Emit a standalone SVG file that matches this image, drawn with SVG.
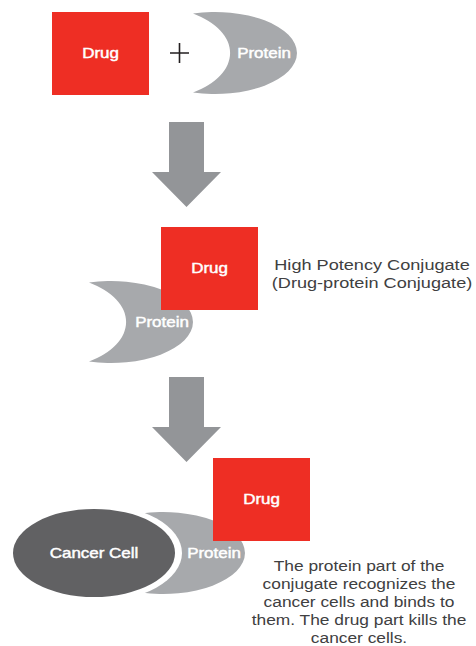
<svg xmlns="http://www.w3.org/2000/svg" xmlns:xlink="http://www.w3.org/1999/xlink" width="476" height="646" viewBox="0 0 476 646">
<style>
.drug{fill:#EE2E24}
.prot{fill:#A7A9AC}
.arrow{fill:#939598}
.lbl{fill:#fff;stroke:#fff;stroke-width:0.45px;font-family:"Liberation Sans",Arial,Helvetica,sans-serif;font-size:14.5px;text-anchor:middle}
.txt{fill:#404041;font-family:"Liberation Sans",Arial,Helvetica,sans-serif;font-size:15.5px;text-anchor:middle}
</style>
<defs>
<path id="crescent" d="M193,13.5 A82,41 0 1 1 193,92.5 A80,46.8 0 0 0 193,13.5 Z"/>
</defs>
<rect width="476" height="646" fill="#fff"/>

<g id="protein1">
<use xlink:href="#crescent" class="prot"/>
<text class="lbl" transform="translate(264,58) scale(1.17,1)">Protein</text>
</g>
<g id="drug1">
<rect class="drug" x="52" y="12" width="97" height="83"/>
<text class="lbl" transform="translate(100.5,58) scale(1.17,1)">Drug</text>
</g>
<g id="plus">
<path d="M170,53 H189 M179.5,43 V63" stroke="#231F20" stroke-width="1.6" fill="none"/>
</g>

<g id="connectors">
<path class="arrow" d="M169,122 H204 V172 H221 L186.5,207 L152,172 H169 Z"/>
<path class="arrow" d="M169,377 H204 V427 H221 L186.5,462 L152,427 H169 Z"/>
</g>

<g id="protein2">
<use xlink:href="#crescent" class="prot" transform="translate(-104,269)"/>
<text class="lbl" transform="translate(162,327) scale(1.17,1)">Protein</text>
</g>
<g id="drug2">
<rect class="drug" x="161" y="227" width="97" height="83"/>
<text class="lbl" transform="translate(209.5,273) scale(1.17,1)">Drug</text>
</g>
<g id="conjugate-label">
<text class="txt" transform="translate(372,270) scale(1.17,1)">High Potency Conjugate</text>
<text class="txt" transform="translate(372,288) scale(1.17,1)">(Drug-protein Conjugate)</text>
</g>

<g id="protein3">
<use xlink:href="#crescent" class="prot" transform="translate(-52,500)"/>
<text class="lbl" transform="translate(214,558) scale(1.17,1)">Protein</text>
</g>
<g id="cancer-cell">
<ellipse cx="94" cy="553" rx="88" ry="49" fill="#fff"/>
<ellipse cx="94" cy="553" rx="81" ry="44" fill="#616163"/>
<text class="lbl" transform="translate(94,558) scale(1.17,1)">Cancer Cell</text>
</g>
<g id="drug3">
<rect class="drug" x="213" y="458" width="97" height="83"/>
<text class="lbl" transform="translate(261.5,504) scale(1.17,1)">Drug</text>
</g>
<g id="caption">
<text class="txt" transform="translate(359,571) scale(1.12,1)">The protein part of the</text>
<text class="txt" transform="translate(359,589) scale(1.12,1)">conjugate recognizes the</text>
<text class="txt" transform="translate(359,607) scale(1.12,1)">cancer cells and binds to</text>
<text class="txt" transform="translate(359,625) scale(1.12,1)">them. The drug part kills the</text>
<text class="txt" transform="translate(359,643) scale(1.12,1)">cancer cells.</text>
</g>
</svg>
